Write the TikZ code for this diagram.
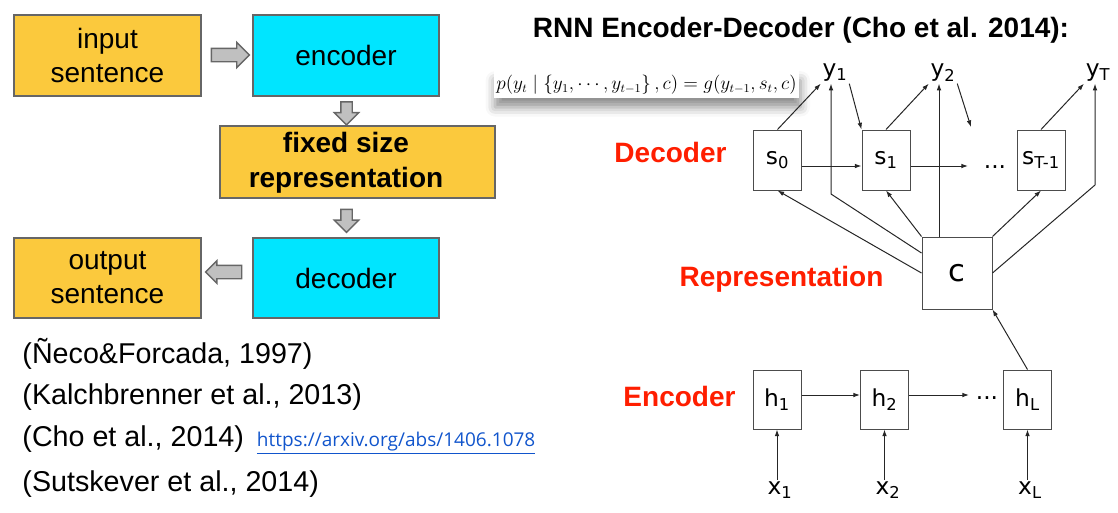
\documentclass[tikz,border=0pt]{standalone}
\usepackage[no-math]{fontspec}
\setmainfont{Liberation Sans}
\newfontfamily\dejavu{DejaVu Sans}
\newfontfamily\opensans{Open Sans}
\usepackage{tikz}
\usetikzlibrary{positioning,arrows.meta,shapes.arrows,shadows.blur}
\usepackage{xcolor}
\tikzset{every picture/.style={line width=0.75pt}}

\definecolor{boxyellow}{RGB}{251,201,61}
\definecolor{boxcyan}{RGB}{0,229,255}
\definecolor{labelred}{RGB}{255,30,0}
\definecolor{linkblue}{RGB}{17,85,204}
\definecolor{blockgray}{RGB}{192,192,192}
\definecolor{edgegray}{RGB}{102,102,102}

\tikzset{
  slidebox/.style={draw=edgegray, line width=1.5pt, minimum width=140pt, minimum height=60.5pt, inner sep=0pt, align=center, font=\fontsize{21}{25.5}\selectfont},
  yellowbox/.style={slidebox, fill=boxyellow},
  cyanbox/.style={slidebox, fill=boxcyan},
  blockarrow/.style={single arrow, draw=edgegray, fill=blockgray, line width=1pt, single arrow tip angle=90},
  cell/.style={draw=black!70, fill=white, line width=0.75pt, minimum width=36pt, minimum height=45pt, inner sep=0pt, font=\dejavu\fontsize{17.5}{20}\selectfont},
  tok/.style={inner sep=1pt, font=\dejavu\fontsize{17.5}{20}\selectfont},
  redlabel/.style={text=labelred, inner sep=0pt, font=\bfseries\fontsize{21}{25}\selectfont},
  reftext/.style={anchor=west, inner sep=0pt, font=\fontsize{21.5}{26}\selectfont},
  link/.style={-{Latex[length=5pt,width=3.5pt]}, black!85},
}

\begin{document}
\begin{tikzpicture}[x=0.75pt,y=0.75pt,yscale=-1,xscale=1]
\useasboundingbox (0,0) rectangle (1118,512);

%Left pipeline boxes
\node[yellowbox] (inp) at (107.5,55.5) {input\\sentence};
\node[cyanbox] (enc) at (346,55.5) {encoder};
\node[yellowbox, minimum width=206.25pt, minimum height=54pt] (fix) at (357.5,161.5) {};
\node[cyanbox] (dec) at (346,278) {decoder};
\node[yellowbox] (out) at (107.5,278) {output\\sentence};
% Text Node
\node[font=\bfseries\fontsize{21}{26}\selectfont, align=center, inner sep=0pt] (fixtxt) at (346,163) {fixed size\\representation};

%Block arrows
\node[blockarrow, inner sep=4.5pt, minimum height=28.5pt, single arrow head extend=4.5pt] (a1) at (227,55) {};
\node[blockarrow, inner sep=3.75pt, minimum height=17.25pt, single arrow head extend=4.9pt, shape border rotate=270] (a2) at (346.5,110.5) {};
\node[blockarrow, inner sep=3.75pt, minimum height=17.25pt, single arrow head extend=4.9pt, shape border rotate=270] (a3) at (346.5,218) {};
\node[blockarrow, inner sep=4.5pt, minimum height=27pt, single arrow head extend=3.4pt, shape border rotate=180] (a4) at (227,272) {};

%References
\node[reftext] (ref1) at (22,354) {(Ñeco\&Forcada, 1997)};
\node[reftext] (ref2) at (22,397) {(Kalchbrenner et al., 2013)};
\node[reftext] (ref3) at (22,439) {(Cho et al., 2014)};
\node[base right=9pt of ref3, inner sep=0pt, text=linkblue, font=\opensans\fontsize{14.25}{17}\selectfont] (url) {\underline{https://arxiv.org/abs/1406.1078}};
\node[reftext] (ref4) at (22,484) {(Sutskever et al., 2014)};

% Title and formula
\node[font=\bfseries\fontsize{21}{25}\selectfont, inner sep=0pt] (title) at (801,30) {RNN Encoder-Decoder (Cho et al. 2014):};
\node[fill=white, minimum width=222pt, minimum height=20pt, inner sep=2pt, blur shadow={shadow xshift=1pt, shadow yshift=-7pt, shadow blur radius=7pt, shadow opacity=45}] (eq) at (646.5,84.5) {\fontsize{13.5}{15}\selectfont $p(y_t \mid \left\{y_1,\cdots,y_{t-1}\right\},c)=g(y_{t-1},s_t,c)$};

%Side labels
\node[redlabel] (declab) at (670.5,152.5) {Decoder};
\node[redlabel] (replab) at (781.5,279) {Representation};
\node[redlabel] (enclab) at (679.5,396) {Encoder};

%Decoder cells
\node[cell] (s0) at (777.5,160) {s\textsubscript{0}};
\node[cell] (s1) at (886,160) {s\textsubscript{1}};
\node[cell] (sT) at (1041,160) {s\textsubscript{T-1}};
\node[tok] (sdots) at (995,167) {...};
\node[tok] (y1) at (835,73) {y\textsubscript{1}};
\node[tok] (y2) at (943,73) {y\textsubscript{2}};
\node[tok] (yT) at (1098,73) {y\textsubscript{T}};

%Context cell
\node[cell, minimum width=52.5pt, minimum height=54pt, font=\dejavu\fontsize{23}{26}\selectfont] (c) at (957,273) {c};

%Encoder cells
\node[cell, minimum height=44.25pt] (h1) at (777,399.5) {h\textsubscript{1}};
\node[cell, minimum height=44.25pt] (h2) at (884.5,399.5) {h\textsubscript{2}};
\node[cell, minimum height=44.25pt] (hL) at (1027.5,399.5) {h\textsubscript{L}};
\node[tok] (hdots) at (987,398) {...};
\node[tok] (x1) at (780,490) {x\textsubscript{1}};
\node[tok] (x2) at (888,490) {x\textsubscript{2}};
\node[tok] (xL) at (1030,490) {x\textsubscript{L}};

%Free ends and bends
\coordinate (send) at (968,166);
\coordinate (hend) at (969,395);
\coordinate (yfree) at (971,127);
\coordinate (b1) at (831,194);
\coordinate (bT) at (1095,185);
\coordinate (cv) at (939,0);

%Straight Lines
\draw[link] (s0.east |- 0,166) -- (s1.west |- 0,166);
\draw[link] (s1.east |- 0,166) -- (send);
\draw[link] (s0.north) -- (y1.south west);
\draw[link] (y1.south east) -- (s1.north west);
\draw[link] (s1.north) -- (y2.south west);
\draw[link] (y2.south east) -- (yfree);
\draw[link] (sT.north) -- (yT.south west);
\draw[link] (c.west) -- (s0.south);
\draw[link] (c.west |- 0,253) -- (b1) -- (b1 |- y1.south);
\draw[link] (c.north west) -- (s1.south);
\draw[link] (cv |- c.north) -- (cv |- y2.south);
\draw[link] (c.north east) -- (sT.south);
\draw[link] (c.east) -- (bT) -- (bT |- yT.south);
\draw[link] (hL.north) -- (c.south east);
\draw[link] (h1.east |- 0,395) -- (h2.west |- 0,395);
\draw[link] (h2.east |- 0,395) -- (hend);
\draw[link] (h1.south |- x1.north) -- (h1.south);
\draw[link] (h2.south |- x2.north) -- (h2.south);
\draw[link] (hL.south |- xL.north) -- (hL.south);

\end{tikzpicture}
\end{document}
